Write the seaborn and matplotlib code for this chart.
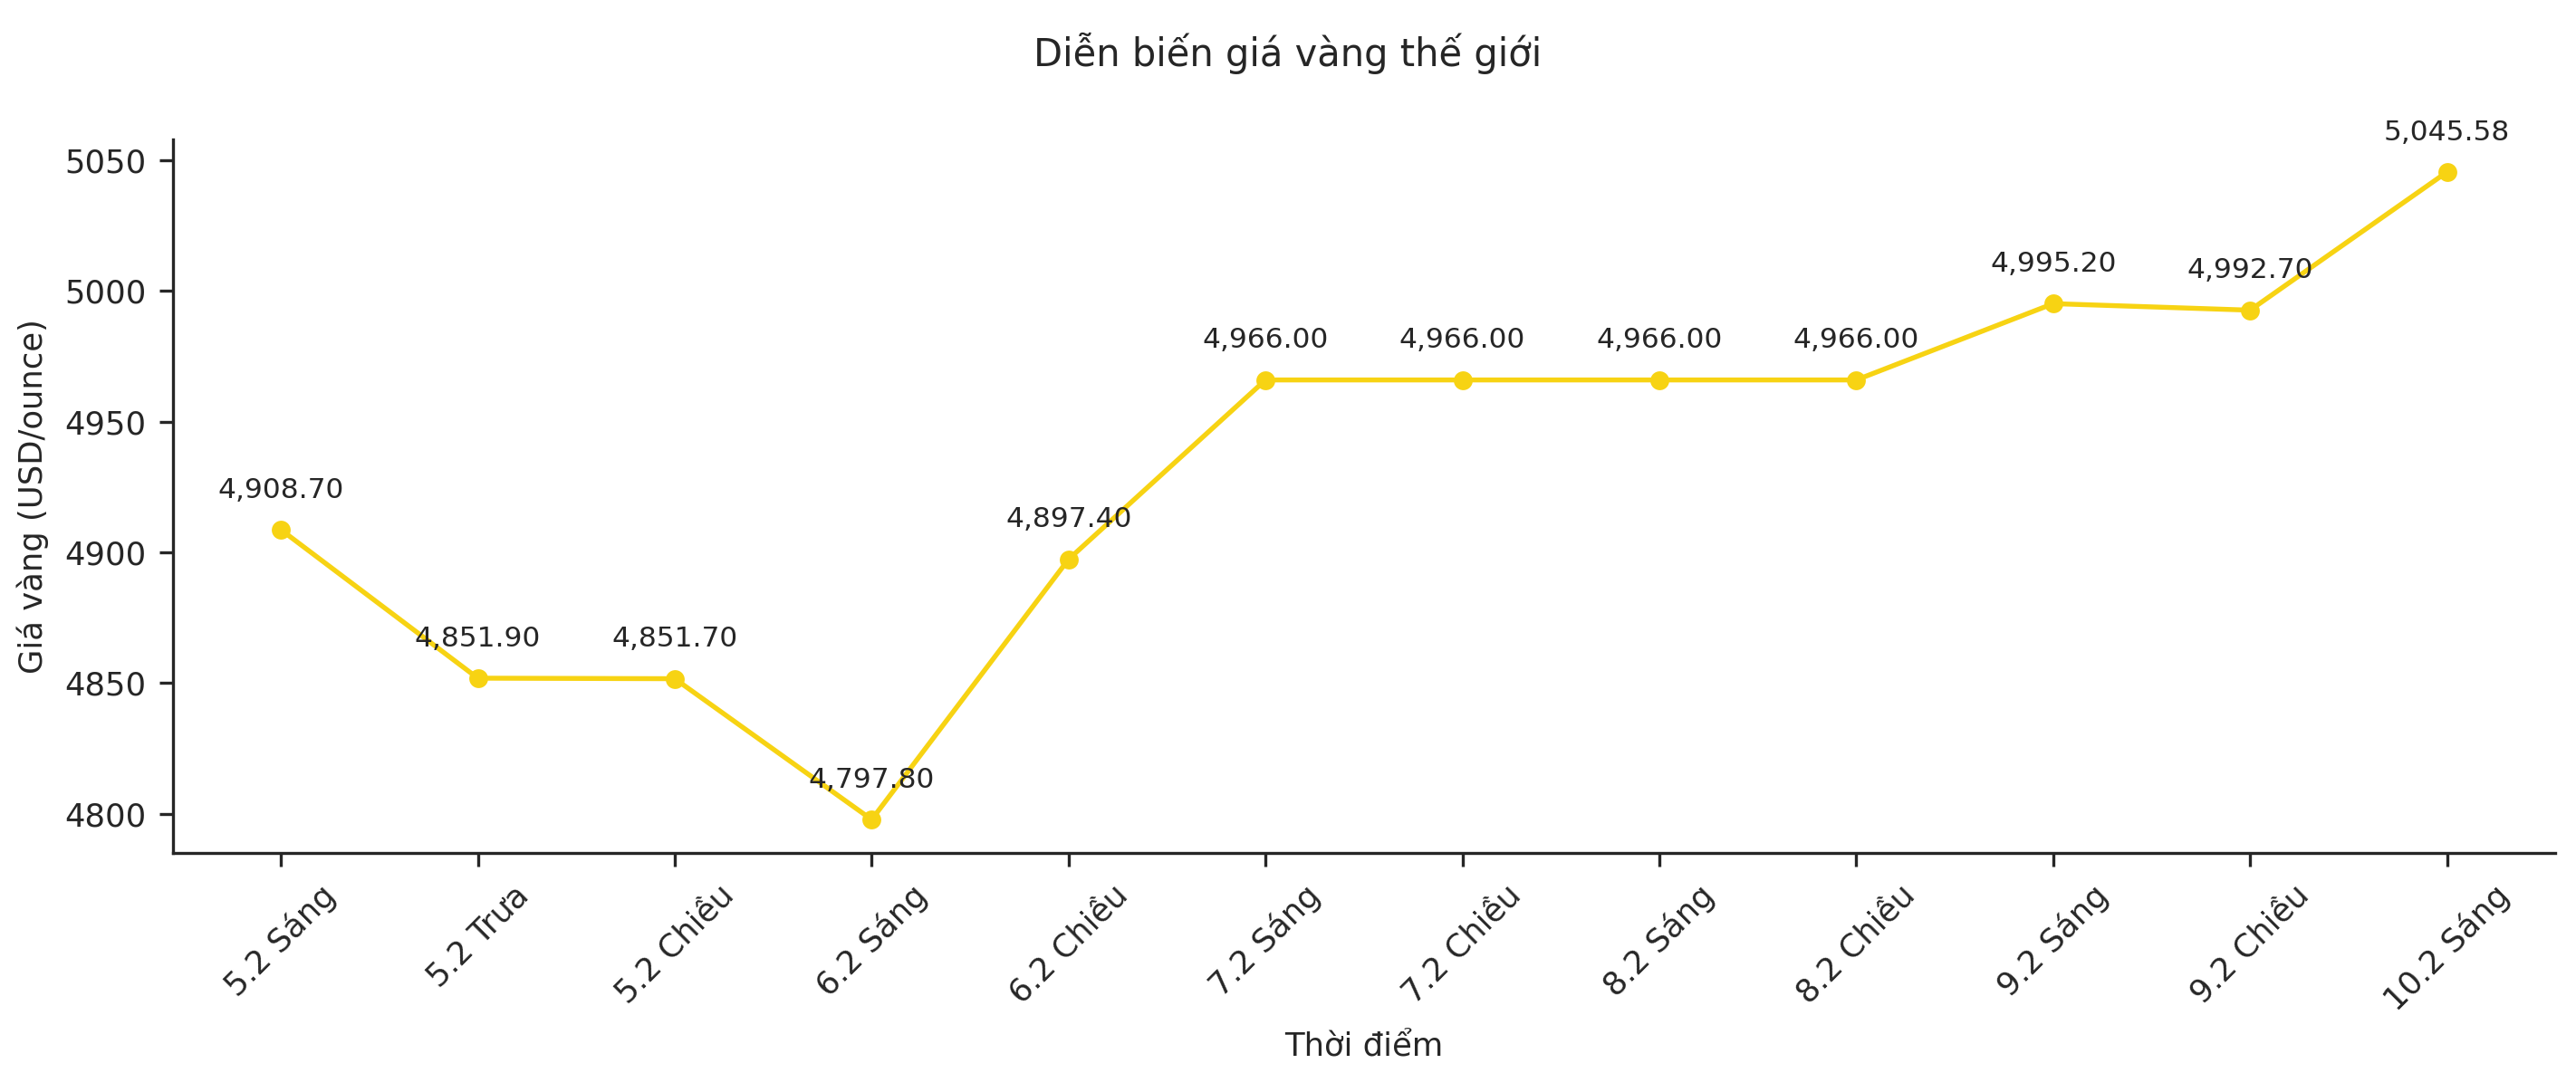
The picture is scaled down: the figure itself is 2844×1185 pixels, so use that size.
import pandas as pd
import seaborn as sns
import matplotlib.pyplot as plt

# Data
labels = ['5.2 Sáng', '5.2 Trưa', '5.2 Chiều', '6.2 Sáng', '6.2 Chiều', '7.2 Sáng',
          '7.2 Chiều', '8.2 Sáng', '8.2 Chiều', '9.2 Sáng', '9.2 Chiều', '10.2 Sáng']
prices = [4908.70, 4851.90, 4851.70, 4797.80, 4897.40, 4966.00,
          4966.00, 4966.00, 4966.00, 4995.20, 4992.70, 5045.58]

df = pd.DataFrame({'pos': range(len(labels)), 'price': prices})

sns.set_style('ticks')
plt.rcParams['font.family'] = ['DejaVu Sans']

fig = plt.figure(figsize=(9.48, 3.95), dpi=300)
ax = fig.add_axes([0.067, 0.205, 0.925, 0.665])

sns.lineplot(data=df, x='pos', y='price', color='#F7D313', linewidth=1.3,
             marker='o', markersize=5, markeredgewidth=0, ax=ax)

for x, y in zip(df['pos'], df['price']):
    ax.annotate(f'{y:,.2f}', (x, y), xytext=(0, 7), textcoords='offset points',
                ha='center', va='bottom', fontsize=7.5)

ax.set_xticks(df['pos'])
ax.set_xticklabels(labels, rotation=45, fontsize=8.5)
ax.tick_params(axis='y', labelsize=8.5)
ax.set_xlim(-0.55, 11.55)
ax.set_ylim(4785, 5058)
ax.set_yticks([4800, 4850, 4900, 4950, 5000, 5050])
ax.set_xlabel('Thời điểm', fontsize=8.5)
ax.set_ylabel('Giá vàng (USD/ounce)', fontsize=8.5)
fig.suptitle('Diễn biến giá vàng thế giới', fontsize=10, y=0.97)
sns.despine(ax=ax)

fig.savefig('out.png', dpi=300)
